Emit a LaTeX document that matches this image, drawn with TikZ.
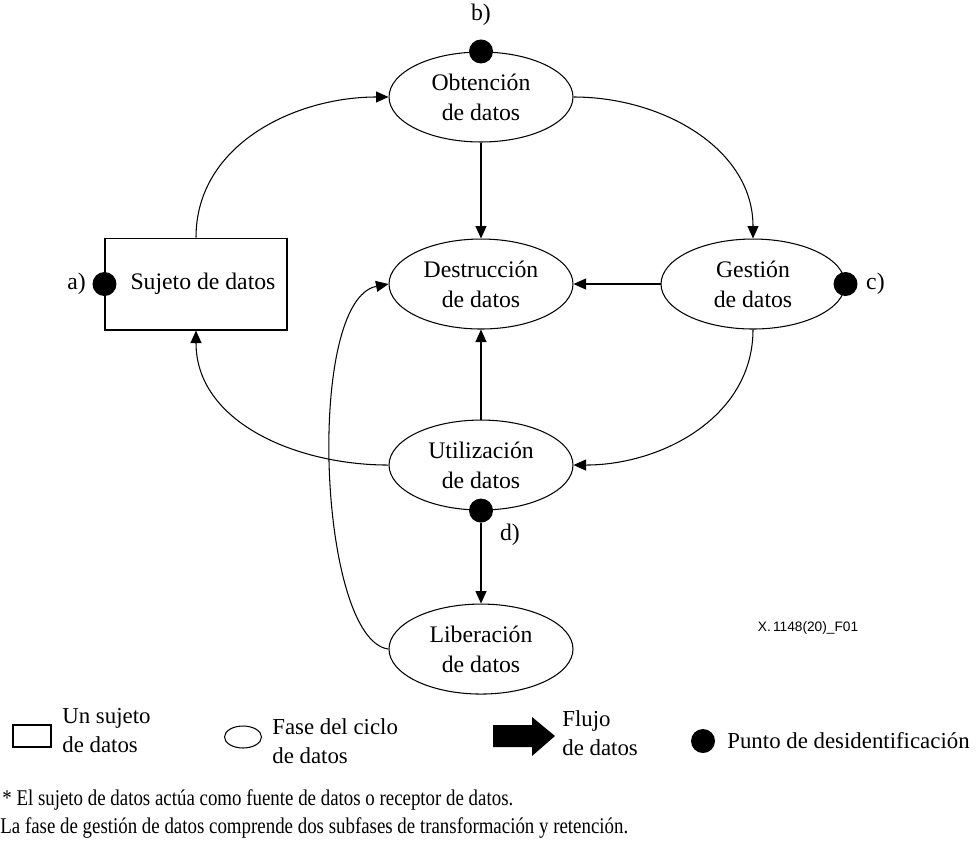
\documentclass[tikz,border=0pt]{standalone}
\usepackage{fontspec}
\setmainfont{Liberation Serif}
\newfontfamily\figsans{Liberation Sans}
\newfontfamily\notefont[FakeStretch=0.84]{Liberation Serif}
\usepackage{tikz}
\usetikzlibrary{arrows.meta,positioning,shapes.geometric}
\tikzset{
  phase/.style={draw,ellipse,line width=0.6pt,minimum width=3.68cm,minimum height=1.8cm,inner sep=0pt,align=center,font=\fontsize{13.5}{17}\selectfont},
  subject/.style={draw,rectangle,line width=0.6pt,minimum width=3.64cm,minimum height=1.84cm,inner sep=0pt,align=center,font=\fontsize{13.5}{17}\selectfont},
  deid/.style={circle,fill=black,minimum size=0.48cm,inner sep=0pt},
  deidlabel/.style={inner sep=0pt,font=\fontsize{13.5}{17}\selectfont},
  flowline/.style={-{Triangle[length=2.5mm,width=2.2mm]},line width=0.6pt},
  legendtext/.style={anchor=west,align=left,inner sep=0pt,font=\fontsize{13}{16.5}\selectfont},
  notetext/.style={anchor=west,inner sep=0pt,font=\notefont\fontsize{12.8}{15}\selectfont}
}
\begin{document}
\begin{tikzpicture}[x=0.02cm,y=-0.02cm]
\useasboundingbox (0,0) rectangle (976,845);
% fases del ciclo
\node[phase] (obt) at (481,97) {Obtención\\de datos};
\node[phase,below=1.92cm of obt] (dest) {Destrucción\\de datos};
\node[phase,below=1.8cm of dest] (util) {Utilización\\de datos};
\node[phase,below=1.86cm of util] (lib) {Liberación\\de datos};
\node[phase,right=1.74cm of dest] (gest) {Gestión\\de datos};
\node[subject,left=2.02cm of dest] (suj) {\hspace*{0.28cm}Sujeto de datos};
% puntos de desidentificacion
\node[deid] (dota) at (suj.west) {};
\node[deid] (dotb) at (obt.north) {};
\node[deid] (dotc) at (gest.east) {};
\node[deid] (dotd) at (util.south) {};
\node[deidlabel,left=0.12cm of dota] (la) {a)};
\node[deidlabel,above=0.26cm of dotb] (lb) {b)};
\node[deidlabel,right=0.16cm of dotc] (lc) {c)};
\node[deidlabel,below right=0.08cm and 0.2cm of dotd] (ld) {d)};
% flujos
\draw[flowline] (suj.north) to[out=90,in=180] (obt.west);
\draw[flowline] (obt.east) to[out=0,in=90] (gest.north);
\draw[flowline] (obt.south)--(dest.north);
\draw[flowline] (gest.west)--(dest.east);
\draw[flowline] (gest.south) to[out=-90,in=0] (util.east);
\draw[flowline] (util.north)--(dest.south);
\draw[flowline] (util.west) to[out=180,in=-90] (suj.south);
\draw[flowline] (dotd.south)--(lib.north);
\draw[flowline] (lib.west) .. controls (318,640) and (305,300) .. (dest.west);
\node[inner sep=0pt,font=\figsans\fontsize{7.8}{9}\selectfont] (figid) at (808,628) {X.\,1148(20)\_F01};
% leyenda
\node[draw,line width=0.6pt,minimum width=0.76cm,minimum height=0.44cm,inner sep=0pt] (legsuj) at (32,736) {};
\node[legendtext] (legsujt) at (62,731) {Un sujeto\\de datos};
\node[draw,ellipse,line width=0.6pt,minimum width=0.74cm,minimum height=0.44cm,inner sep=0pt] (legfase) at (243,737) {};
\node[legendtext] (legfaset) at (272,741) {Fase del ciclo\\de datos};
\fill (493,725)--(532,725)--(532,717)--(555,736)--(532,756)--(532,747)--(493,747)--cycle;
\node[legendtext] (legflujo) at (562,733) {Flujo\\de datos};
\node[deid] (legdot) at (703,741) {};
\node[legendtext] (legdott) at (727,741) {Punto de desidentificación};
% notas
\node[notetext] (nota1) at (2,800) {* El sujeto de datos actúa como fuente de datos o receptor de datos.};
\node[notetext] (nota2) at (0,828) {La fase de gestión de datos comprende dos subfases de transformación y retención.};
\end{tikzpicture}
\end{document}
